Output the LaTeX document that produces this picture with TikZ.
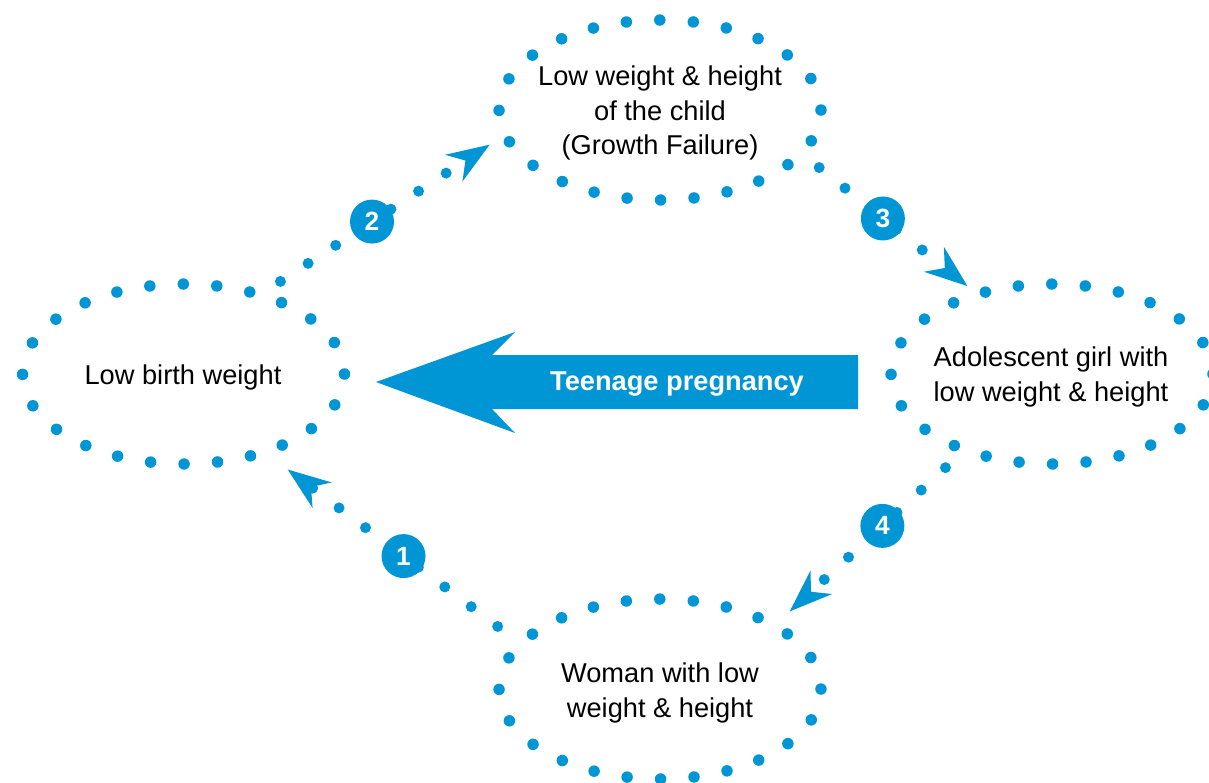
\documentclass[tikz,border=0pt]{standalone}
\usepackage{fontspec}
\setmainfont{Liberation Sans}
\usetikzlibrary{arrows.meta,shapes.geometric}
\definecolor{CycleBlue}{HTML}{0096D6}

\begin{document}
\begin{tikzpicture}[
  x=0.02cm, y=-0.02cm,
  >={Stealth[length=0.86cm, width=0.64cm, inset=0.28cm, line width=0pt]},
  ring/.style={ellipse, draw=CycleBlue, line width=0.23cm, line cap=round, dash pattern=on 0pt off 0.671cm, minimum width=6.44cm, minimum height=3.6cm, inner sep=0pt, outer sep=0pt},
  ringtext/.style={align=center, text=black, font=\fontsize{15.5}{19.8}\selectfont},
  link/.style={->, CycleBlue, line width=0.22cm, line cap=round, dash pattern=on 0pt off 0.66cm},
  badge/.style={circle, fill=CycleBlue, text=white, minimum size=0.88cm, inner sep=0pt, font=\fontsize{15}{15}\selectfont\bfseries},
  bigtext/.style={anchor=base, text=white, font=\fontsize{15.5}{18}\selectfont\bfseries}
]
\useasboundingbox (0,0) rectangle (1209,782);

% the four stages
\node[ring] (lbw) at (183.5,374) {};
\node[ring] (child) at (660,110) {};
\node[ring] (girl) at (1052,374) {};
\node[ring] (woman) at (660,689) {};

\node[ringtext] (lbw-t) at (183,377) {Low birth weight};
\node[ringtext] (child-t) at (660,113) {Low weight \& height\\of the child\\(Growth Failure)};
\node[ringtext] (girl-t) at (1051,377) {Adolescent girl with\\low weight \& height};
\node[ringtext] (woman-t) at (660,693) {Woman with low\\weight \& height};

% cycle
\draw[link, shorten <=0.49cm, shorten >=0.37cm] (lbw.46.6) -- node[badge, pos=0.457] (n2) {2} (child.189.2);
\draw[link, shorten <=0.46cm, shorten >=0.26cm] (child.343.3) -- node[badge, pos=0.463] (n3) {3} (girl.133.2);
\draw[link, shorten <=0.53cm, shorten >=0.42cm] (girl.221.7) -- node[badge, pos=0.433] (n4) {4} (woman.29.4);
\draw[link, shorten <=0.58cm, shorten >=0.59cm] (woman.162.4) -- node[badge, pos=0.457] (n1) {1} (lbw.316.9);

% shortcut
\fill[CycleBlue] (858,355) -- (492,355) -- (515,332) -- (376,382) -- (515,433) -- (492,409) -- (858,409) -- cycle;
\node[bigtext] (teen) at (677,390) {Teenage pregnancy};

\end{tikzpicture}
\end{document}
